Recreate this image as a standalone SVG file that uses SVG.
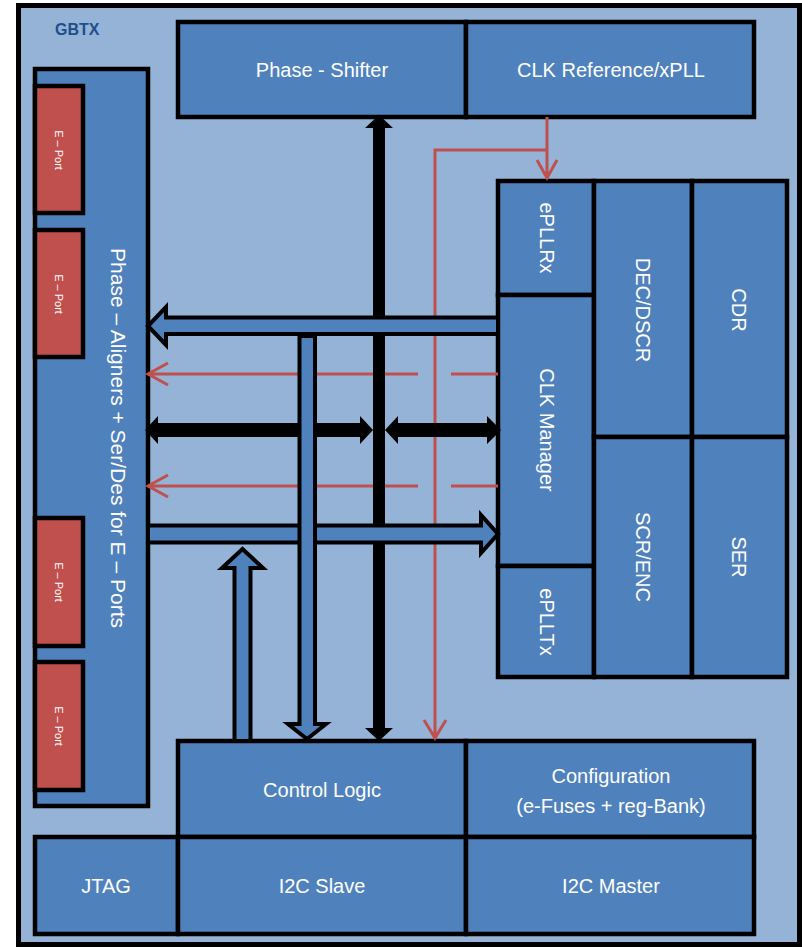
<svg xmlns="http://www.w3.org/2000/svg" width="802" height="947" viewBox="0 0 802 947">
<style>
.box{fill:#4F81BD;stroke:#000;stroke-width:4.5}
.ep{fill:#C0504D;stroke:#000;stroke-width:4.5}
.t{fill:#fff;font-family:"Liberation Sans",Arial,sans-serif;font-size:20px;text-anchor:middle;dominant-baseline:central}
.ts{fill:#fff;font-family:"Liberation Sans",Arial,sans-serif;font-size:11px;text-anchor:middle;dominant-baseline:central}
.red{fill:none;stroke:#C0504D;stroke-width:3}
.blk{fill:#000}
.barr{fill:#4F81BD;stroke:#000;stroke-width:4;stroke-linejoin:miter}
</style>
<rect x="18.5" y="5.5" width="781" height="939" fill="#95B3D7" stroke="#000" stroke-width="5"/>
<text x="55" y="29" font-family="Liberation Sans,Arial,sans-serif" font-size="16" font-weight="bold" fill="#1F4E8C" dominant-baseline="central">GBTX</text>

<g id="phase-aligners">
<rect class="box" x="35" y="69" width="113" height="737"/>
<text class="t" transform="translate(118,438) rotate(90)" style="font-size:21px">Phase – Aligners + Ser/Des for E – Ports</text>
</g>
<g id="eport1"><rect class="ep" x="35" y="86" width="48" height="127"/><text class="ts" transform="translate(59,150) rotate(90)">E – Port</text></g>
<g id="eport2"><rect class="ep" x="35" y="230" width="48" height="127"/><text class="ts" transform="translate(59,294) rotate(90)">E – Port</text></g>
<g id="eport3"><rect class="ep" x="35" y="518" width="48" height="128"/><text class="ts" transform="translate(59,582) rotate(90)">E – Port</text></g>
<g id="eport4"><rect class="ep" x="35" y="662" width="48" height="128"/><text class="ts" transform="translate(59,726) rotate(90)">E – Port</text></g>

<g id="phase-shifter"><rect class="box" x="178" y="22" width="288" height="95"/><text class="t" x="322" y="70">Phase - Shifter</text></g>
<g id="clk-reference"><rect class="box" x="466" y="22" width="288" height="95"/><text class="t" x="611" y="70">CLK Reference/xPLL</text></g>

<g id="epllrx"><rect class="box" x="498" y="181" width="96" height="114"/><text class="t" transform="translate(547,238) rotate(90)">ePLLRx</text></g>
<g id="clk-manager"><rect class="box" x="498" y="295" width="96" height="271"/><text class="t" transform="translate(547,430) rotate(90)">CLK Manager</text></g>
<g id="eplltx"><rect class="box" x="498" y="566" width="96" height="111"/><text class="t" transform="translate(547,622) rotate(90)">ePLLTx</text></g>
<g id="dec-dscr"><rect class="box" x="594" y="181" width="98" height="256"/><text class="t" transform="translate(643,310) rotate(90)">DEC/DSCR</text></g>
<g id="scr-enc"><rect class="box" x="594" y="437" width="98" height="240"/><text class="t" transform="translate(643,557) rotate(90)">SCR/ENC</text></g>
<g id="cdr"><rect class="box" x="692" y="181" width="95" height="256"/><text class="t" transform="translate(739,310) rotate(90)">CDR</text></g>
<g id="ser"><rect class="box" x="692" y="437" width="95" height="240"/><text class="t" transform="translate(739,557) rotate(90)">SER</text></g>

<g id="control-logic"><rect class="box" x="178" y="741" width="288" height="96"/><text class="t" x="322" y="790">Control Logic</text></g>
<g id="configuration"><rect class="box" x="466" y="741" width="288" height="96"/><text class="t" x="611" y="776">Configuration</text><text class="t" x="611" y="806">(e-Fuses + reg-Bank)</text></g>
<g id="jtag"><rect class="box" x="35" y="837" width="143" height="97"/><text class="t" x="106" y="886">JTAG</text></g>
<g id="i2c-slave"><rect class="box" x="178" y="837" width="288" height="97"/><text class="t" x="322" y="886">I2C Slave</text></g>
<g id="i2c-master"><rect class="box" x="466" y="837" width="288" height="97"/><text class="t" x="611" y="886">I2C Master</text></g>

<g id="connectors">
<path class="red" d="M547,117 V178 M537,160 L547,178 L557,160"/>
<path class="red" d="M547,150 H435 V738 M424,720 L435,738 L446,720"/>
<path class="red" d="M498,374 H451 M418,374 H148 M168,363 L148,374 L168,385"/>
<path class="red" d="M498,486 H451 M418,486 H148 M168,475 L148,486 L168,497"/>
<polygon class="blk" points="379,115 393,128 385,128 385,728 393,728 379,741 365,728 373,728 373,128 365,128"/>
<polygon class="blk" points="145,430 158,416 158,423 360,423 360,416 373,430 360,444 360,437 158,437 158,444"/>
<polygon class="blk" points="385,430 398,416 398,423 487,423 487,416 501,430 487,444 487,437 398,437 398,444"/>
<polygon class="barr" points="498,317.5 166,317.5 166,307 148,326 166,345 166,334 498,334"/>
<polygon class="barr" points="148,525.5 481,525.5 481,515 498,534 481,553 481,542.5 148,542.5"/>
<polygon class="barr" points="299.5,336 315,336 315,724 326,724 307,739 288,724 299.5,724"/>
<polygon class="barr" points="234.5,741 250.5,741 250.5,568 263,568 242.5,549 222,568 234.5,568"/>
</g>
</svg>
